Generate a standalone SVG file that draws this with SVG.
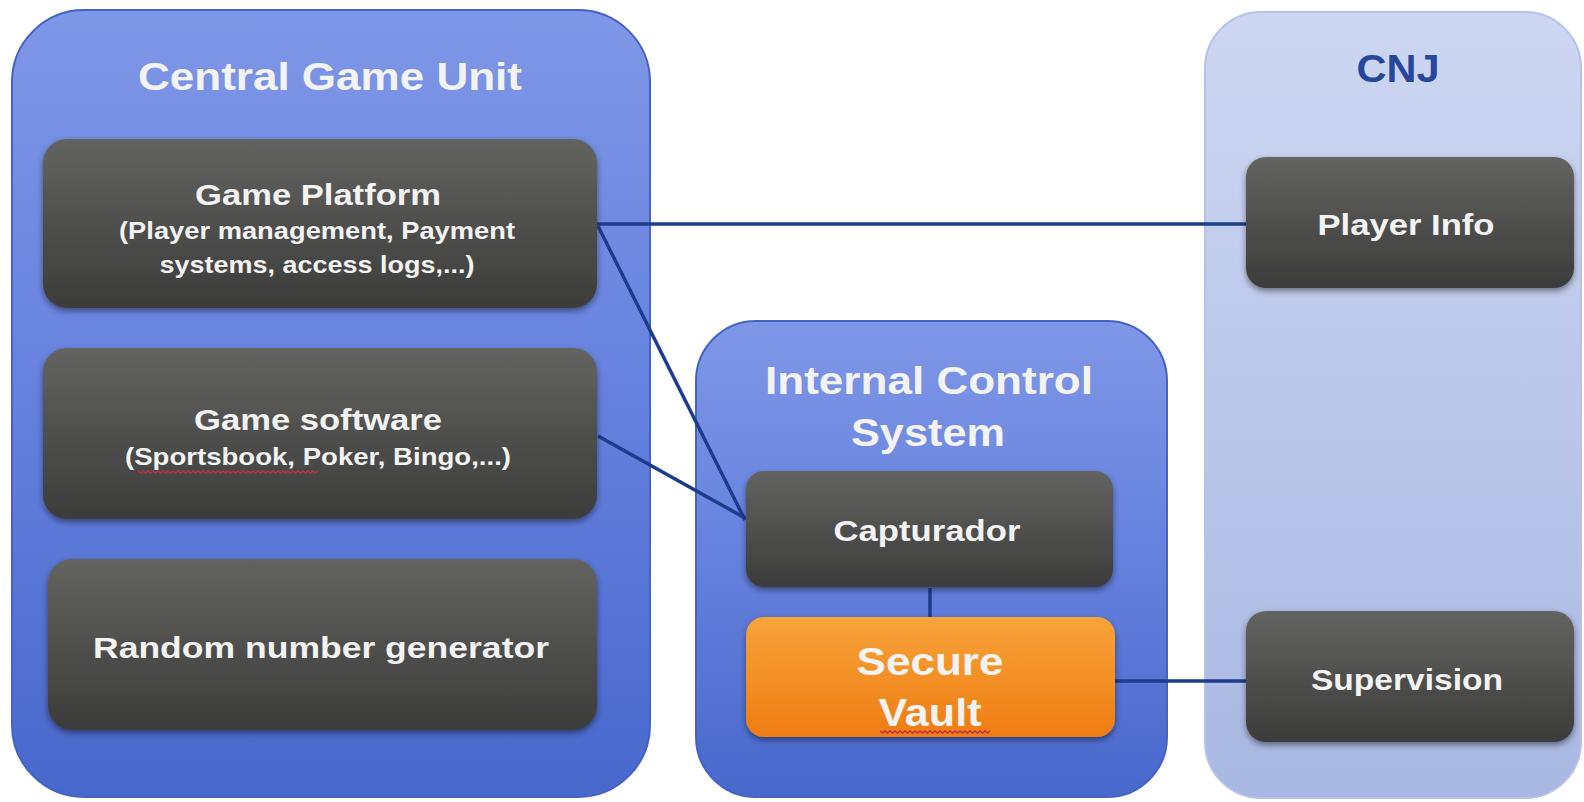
<svg xmlns="http://www.w3.org/2000/svg" width="1584" height="802" viewBox="0 0 1584 802">
<defs>
<linearGradient id="gBlue" x1="0" y1="0" x2="0" y2="1">
<stop offset="0" stop-color="#7f97e7"/>
<stop offset="0.5" stop-color="#6581de"/>
<stop offset="1" stop-color="#4868cc"/>
</linearGradient>
<linearGradient id="gLight" x1="0" y1="0" x2="0" y2="1">
<stop offset="0" stop-color="#cdd7f3"/>
<stop offset="1" stop-color="#a9b8e2"/>
</linearGradient>
<linearGradient id="gDark" x1="0" y1="0" x2="0" y2="1">
<stop offset="0" stop-color="#636361"/>
<stop offset="0.55" stop-color="#4d4d4b"/>
<stop offset="1" stop-color="#3c3c3b"/>
</linearGradient>
<linearGradient id="gOrange" x1="0" y1="0" x2="0" y2="1">
<stop offset="0" stop-color="#f8a43a"/>
<stop offset="1" stop-color="#ef7c12"/>
</linearGradient>
<filter id="sh" x="-10%" y="-10%" width="120%" height="130%">
<feDropShadow dx="0" dy="3" stdDeviation="3" flood-color="#000" flood-opacity="0.45"/>
</filter>
</defs>
<style>
.cont{fill:url(#gBlue);stroke:#4463c4;stroke-width:2}
.cnj{fill:url(#gLight);stroke:#b7c3e6;stroke-width:2}
.box{fill:url(#gDark);filter:url(#sh)}
.org{fill:url(#gOrange);filter:url(#sh)}
text{font-family:"Liberation Sans",Arial,sans-serif;font-weight:bold;fill:#f3f3f3;text-anchor:middle}
.ttl{font-size:38px}
.h{font-size:29px}
.s{font-size:24px}
.n{font-size:30px}
.cnjt{fill:#27479a;font-size:38px}
.conn{stroke:#1d3c8c;stroke-width:3.5;fill:none}
.spell{stroke:#c0304a;stroke-width:1.5;fill:none}
</style>
<rect width="1584" height="802" fill="#ffffff"/>

<g id="central-game-unit">
<rect class="cont" x="12" y="10" width="638" height="787" rx="72"/>
<text class="ttl" x="330" y="90" textLength="384" lengthAdjust="spacingAndGlyphs">Central Game Unit</text>
</g>
<g id="internal-control-system">
<rect class="cont" x="696" y="321" width="471" height="476" rx="60"/>
<text class="ttl" x="929" y="394" textLength="328" lengthAdjust="spacingAndGlyphs">Internal Control</text>
<text class="ttl" x="928" y="446" textLength="154" lengthAdjust="spacingAndGlyphs">System</text>
</g>
<g id="cnj">
<rect class="cnj" x="1205" y="12" width="376" height="786" rx="56"/>
<text class="cnjt" x="1398" y="82" textLength="83" lengthAdjust="spacingAndGlyphs">CNJ</text>
</g>

<g id="connectors">
<line class="conn" x1="596" y1="224" x2="1248" y2="224"/>
<line class="conn" x1="598" y1="226" x2="745" y2="520"/>
<line class="conn" x1="598" y1="436" x2="745" y2="518"/>
<line class="conn" x1="930" y1="588" x2="930" y2="618"/>
<line class="conn" x1="1114" y1="681" x2="1248" y2="681"/>
</g>

<g id="game-platform">
<rect class="box" x="43" y="139" width="554" height="169" rx="24"/>
<text class="h" x="318" y="205" textLength="246" lengthAdjust="spacingAndGlyphs">Game Platform</text>
<text class="s" x="317" y="239" textLength="396" lengthAdjust="spacingAndGlyphs">(Player management, Payment</text>
<text class="s" x="317" y="273" textLength="315" lengthAdjust="spacingAndGlyphs">systems, access logs,...)</text>
</g>
<g id="game-software">
<rect class="box" x="43" y="348" width="554" height="171" rx="24"/>
<text class="h" x="318" y="430" textLength="248" lengthAdjust="spacingAndGlyphs">Game software</text>
<text class="s" x="318" y="465" textLength="386" lengthAdjust="spacingAndGlyphs">(Sportsbook, Poker, Bingo,...)</text>
<path class="spell" d="M138 471 l2.5 2 2.5 -2 2.5 2 2.5 -2 2.5 2 2.5 -2 2.5 2 2.5 -2 2.5 2 2.5 -2 2.5 2 2.5 -2 2.5 2 2.5 -2 2.5 2 2.5 -2 2.5 2 2.5 -2 2.5 2 2.5 -2 2.5 2 2.5 -2 2.5 2 2.5 -2 2.5 2 2.5 -2 2.5 2 2.5 -2 2.5 2 2.5 -2 2.5 2 2.5 -2 2.5 2 2.5 -2 2.5 2 2.5 -2 2.5 2 2.5 -2 2.5 2 2.5 -2 2.5 2 2.5 -2 2.5 2 2.5 -2 2.5 2 2.5 -2 2.5 2 2.5 -2 2.5 2 2.5 -2 2.5 2 2.5 -2 2.5 2 2.5 -2 2.5 2 2.5 -2 2.5 2 2.5 -2 2.5 2 2.5 -2 2.5 2 2.5 -2 2.5 2 2.5 -2 2.5 2 2.5 -2 2.5 2 2.5 -2 2.5 2 2.5 -2 2.5 2 2.5 -2"/>
</g>
<g id="random-number-generator">
<rect class="box" x="48" y="559" width="549" height="171" rx="24"/>
<text class="n" x="321" y="658" textLength="456" lengthAdjust="spacingAndGlyphs">Random number generator</text>
</g>
<g id="capturador">
<rect class="box" x="746" y="471" width="367" height="116" rx="18"/>
<text class="n" x="927" y="541" textLength="187" lengthAdjust="spacingAndGlyphs">Capturador</text>
</g>
<g id="secure-vault">
<rect class="org" x="746" y="617" width="369" height="120" rx="18"/>
<text class="ttl" x="930" y="675" textLength="147" lengthAdjust="spacingAndGlyphs">Secure</text>
<text class="ttl" x="930" y="726" textLength="103" lengthAdjust="spacingAndGlyphs">Vault</text>
<path class="spell" d="M880 731 l2.5 2 2.5 -2 2.5 2 2.5 -2 2.5 2 2.5 -2 2.5 2 2.5 -2 2.5 2 2.5 -2 2.5 2 2.5 -2 2.5 2 2.5 -2 2.5 2 2.5 -2 2.5 2 2.5 -2 2.5 2 2.5 -2 2.5 2 2.5 -2 2.5 2 2.5 -2 2.5 2 2.5 -2 2.5 2 2.5 -2 2.5 2 2.5 -2 2.5 2 2.5 -2 2.5 2 2.5 -2 2.5 2 2.5 -2 2.5 2 2.5 -2 2.5 2 2.5 -2 2.5 2 2.5 -2 2.5 2 2.5 -2"/>
</g>
<g id="player-info">
<rect class="box" x="1246" y="157" width="328" height="131" rx="20"/>
<text class="n" x="1406" y="235" textLength="177" lengthAdjust="spacingAndGlyphs">Player Info</text>
</g>
<g id="supervision">
<rect class="box" x="1246" y="611" width="328" height="131" rx="20"/>
<text class="n" x="1407" y="690" textLength="192" lengthAdjust="spacingAndGlyphs">Supervision</text>
</g>
</svg>
